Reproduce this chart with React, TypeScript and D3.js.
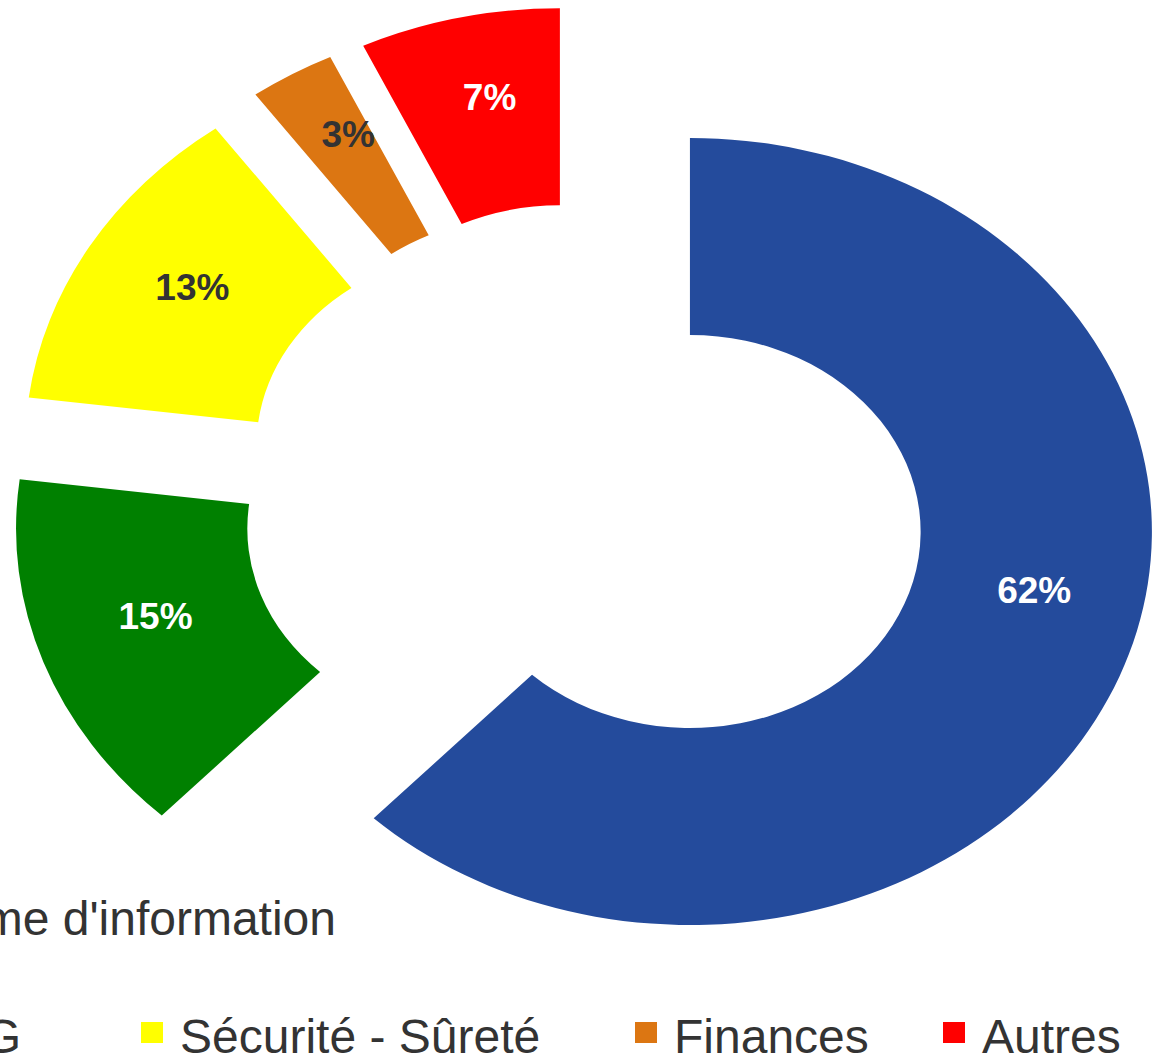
import React from "react";
import * as d3 from "d3";

// ---- data ----
const categories = [
  "Système d'information",
  "DG",
  "Sécurité - Sûreté",
  "Finances",
  "Autres",
];
const values = [62, 15, 13, 3, 7];
const colors = ["#244B9C", "#008000", "#FFFF00", "#DC7612", "#FF0000"];
const labelColors = ["#FFFFFF", "#FFFFFF", "#333333", "#333333", "#FFFFFF"];
// small nudges of the percentage labels (angle in degrees, radius in px)
const labelNudge = [-10.3, 2.3, 2, 2, 1.5];
const labelRadiusNudge = [4, -7, 3, 23, 16];

// ---- layout ----
const W = 1160;
const H = 1059;
const CX = 584.6;
const CY = 496;
const SX = 1.174; // horizontal stretch of the donut
const R_OUT = 393.5;
const R_IN = 196.5;
const EXPLODE = 96.5;

const FONT = "'Liberation Sans', Arial, Helvetica, sans-serif";

export default function App() {
  const pie = d3
    .pie<number>()
    .sort(null)
    .value((d) => d);
  const arcs = pie(values);
  const arc = d3
    .arc<d3.PieArcDatum<number>>()
    .innerRadius(R_IN)
    .outerRadius(R_OUT);
  const total = d3.sum(values);
  const fmt = d3.format(".0%");

  const slices = arcs.map((a, i) => {
    const mid = (a.startAngle + a.endAngle) / 2;
    const ox = EXPLODE * Math.sin(mid);
    const oy = -EXPLODE * Math.cos(mid);
    const la = mid + (labelNudge[i] * Math.PI) / 180;
    const rm = (R_IN + R_OUT) / 2 + labelRadiusNudge[i];
    const lx = CX + SX * (ox + rm * Math.sin(la));
    const ly = CY + oy - rm * Math.cos(la);
    return { a, i, ox, oy, lx, ly };
  });

  // legend rows (row 1: first item, row 2: the rest)
  const legendRows = [
    { y: 935, items: [{ i: 0, textEnd: 336 }] },
    {
      y: 1053,
      items: [
        { i: 1, textEnd: 21 },
        { i: 2, sq: 141 },
        { i: 3, sq: 635 },
        { i: 4, sq: 943 },
      ],
    },
  ];

  return (
    <svg
      width={W}
      height={H}
      style={{ position: "absolute", left: 0, top: 0, background: "#fff" }}
    >
      <rect width={W} height={H} fill="#fff" />
      <g transform={`translate(${CX},${CY}) scale(${SX},1)`}>
        {slices.map((s) => (
          <path
            key={s.i}
            d={arc(s.a) || ""}
            transform={`translate(${s.ox},${s.oy})`}
            fill={colors[s.i]}
          />
        ))}
      </g>
      {slices.map((s) => (
        <text
          key={"l" + s.i}
          x={s.lx}
          y={s.ly}
          dy="0.36em"
          textAnchor="middle"
          fontFamily={FONT}
          fontWeight="bold"
          fontSize={37}
          fill={labelColors[s.i]}
        >
          {fmt(values[s.i] / total)}
        </text>
      ))}
      {legendRows.map((row, ri) => (
        <g key={"r" + ri}>
          {row.items.map((it: any) => {
            if (it.textEnd !== undefined) {
              return (
                <g key={it.i}>
                  <text
                    x={it.textEnd}
                    y={row.y}
                    textAnchor="end"
                    fontFamily={FONT}
                    fontSize={48}
                    fill="#333"
                  >
                    {categories[it.i]}
                  </text>
                </g>
              );
            }
            return (
              <g key={it.i}>
                <rect
                  x={it.sq}
                  y={row.y - 31}
                  width={22}
                  height={21}
                  fill={colors[it.i]}
                />
                <text
                  x={it.sq + 39}
                  y={row.y}
                  fontFamily={FONT}
                  fontSize={48}
                  fill="#333"
                >
                  {categories[it.i]}
                </text>
              </g>
            );
          })}
        </g>
      ))}
    </svg>
  );
}
